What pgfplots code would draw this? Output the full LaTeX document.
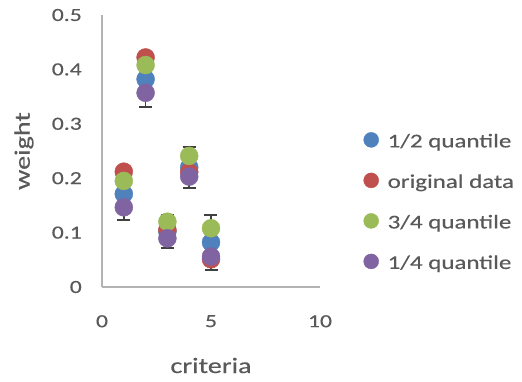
\documentclass[border=0pt]{standalone}
\usepackage{fontspec}
\setmainfont{Carlito}[FakeStretch=1.28, FakeBold=0.4]
\usepackage{pgfplots}
\pgfplotsset{compat=1.18}
\definecolor{cblue}{HTML}{4F81BD}
\definecolor{cred}{HTML}{C0504D}
\definecolor{cgreen}{HTML}{9BBB59}
\definecolor{cpurple}{HTML}{8064A2}
\definecolor{txt}{HTML}{595959}
\definecolor{axgray}{HTML}{B3B3B3}
\definecolor{ebar}{HTML}{404040}
\pgfplotstableread{
x y e
1 0.171 0.048
2 0.382 0.051
3 0.102 0.031
4 0.220 0.038
5 0.082 0.051
}\half
\pgfplotstableread{
x y
1 0.212
2 0.422
3 0.105
4 0.211
5 0.051
}\orig
\pgfplotstableread{
x y
1 0.195
2 0.408
3 0.120
4 0.241
5 0.108
}\three
\pgfplotstableread{
x y
1 0.1465
2 0.357
3 0.0895
4 0.203
5 0.056
}\quarter
\begin{document}
\begin{tikzpicture}[x=1pt,y=1pt]
\begin{axis}[
  scale only axis, width=218pt, height=272pt,
  xmin=0, xmax=10, ymin=0, ymax=0.5,
  axis x line=bottom, axis y line=left,
  axis line style={-, draw=axgray, line width=1.5pt},
  xtick={0,5,10}, ytick={0,0.1,0.2,0.3,0.4,0.5},
  major tick length=0pt,
  /pgf/number format/assume math mode=true,
  yticklabel style={/pgf/number format/fixed, /pgf/number format/precision=1},
  tick label style={font=\fontsize{18.5}{20}\selectfont, text=txt, inner sep=0pt},
  xticklabel style={anchor=north, yshift=-28pt},
  yticklabel style={anchor=east, xshift=-20pt},
  xlabel={criteria}, ylabel={weight},
  every axis x label/.style={at={(axis description cs:0.5,0)}, anchor=base, yshift=-86pt, font=\fontsize{22}{24}\selectfont, text=txt},
  every axis y label/.style={at={(axis description cs:-0.3578,0.5)}, rotate=90, anchor=center, font=\fontsize{22}{24}\selectfont, text=txt},
  legend image code/.code={\draw[#1, mark size=7.5pt] plot coordinates {(0pt,1.5pt)};},
  legend cell align=left,
  legend style={at={(1.1995,0.3147)}, anchor=west, draw=none, fill=none, inner sep=0pt,
    font=\fontsize{19.5}{21}\selectfont, text=txt, row sep=24pt, column sep=9pt,
    nodes={inner sep=0pt}},
  clip=false,
]
\addplot[only marks, mark=*, mark size=9pt, color=cblue,
  error bars/.cd, y dir=both, y explicit,
  error bar style={color=ebar, line width=1.8pt},
  error mark options={rotate=90, mark size=6.5pt, line width=1.8pt, color=ebar}]
  table[x=x, y=y, y error=e] {\half};
\addlegendentry{1/2 quantile}
\addplot[only marks, mark=*, mark size=9pt, color=cred] table[x=x,y=y] {\orig};
\addlegendentry{original data}
\addplot[only marks, mark=*, mark size=9pt, color=cgreen] table[x=x,y=y] {\three};
\addlegendentry{3/4 quantile}
\addplot[only marks, mark=*, mark size=9pt, color=cpurple] table[x=x,y=y] {\quarter};
\addlegendentry{1/4 quantile}
\end{axis}
\pgfresetboundingbox
\path (-102,-94) rectangle (420,287);
\end{tikzpicture}
\end{document}
